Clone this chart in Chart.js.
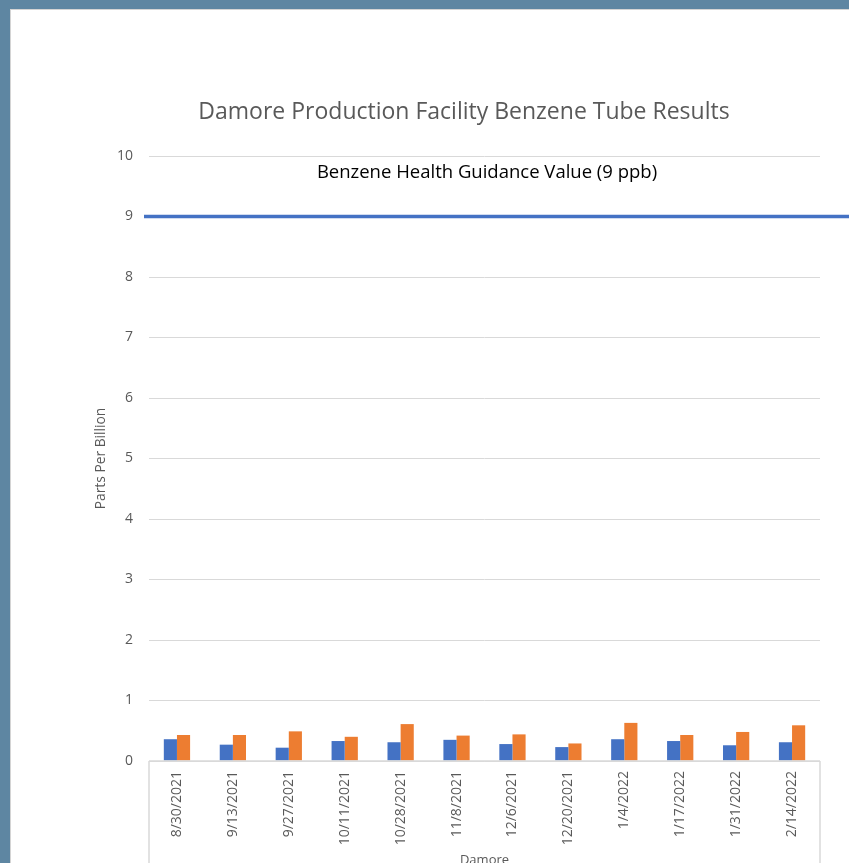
<!DOCTYPE html>
<html>
<head>
<meta charset="utf-8">
<title>Damore Production Facility Benzene Tube Results</title>
<script src="https://cdn.jsdelivr.net/npm/chart.js@4"></script>
<style>
    html, body { margin: 0; padding: 0; background: #fff; }
    #frame {
        position: absolute; left: 0; top: 0; width: 849px; height: 863px;
        box-sizing: border-box;
        border-left: 10px solid #5e86a2; border-top: 9px solid #5e86a2;
    }
    #frame::after {
        content: ''; position: absolute; left: 0; top: 0; right: 0; bottom: 0;
        border-left: 1px solid #d4d4d4; border-top: 1px solid #d4d4d4;
    }
    #chart { position: absolute; left: 0; top: 0; }
</style>
</head>
<body>
<div id="frame"></div>
<canvas id="chart" width="849" height="863"></canvas>
<script>
'use strict';

// dates of the tube samples
const DATES = ['8/30/2021', '9/13/2021', '9/27/2021', '10/11/2021', '10/28/2021', '11/8/2021',
    '12/6/2021', '12/20/2021', '1/4/2022', '1/17/2022', '1/31/2022', '2/14/2022'];
// two tube results per date (ppb)
const SERIES_BLUE = [0.36, 0.27, 0.22, 0.33, 0.31, 0.35, 0.28, 0.23, 0.36, 0.33, 0.26, 0.31];
const SERIES_ORANGE = [0.43, 0.43, 0.49, 0.40, 0.61, 0.42, 0.44, 0.29, 0.63, 0.43, 0.48, 0.59];
const Y_TICKS = [0, 1, 2, 3, 4, 5, 6, 7, 8, 9, 10];
const GUIDANCE_VALUE = 9;
const GUIDANCE_LABEL = 'Benzene Health Guidance Value (9 ppb)';
const TITLE = 'Damore Production Facility Benzene Tube Results';
const GROUP_LABEL = 'Damore';

const FONT = "'Open Sans', 'Noto Sans', sans-serif";
const GREY = '#595959';
const LINE_GREY = '#d9d9d9';

/* title, 9 ppb reference line and the multi-level axis box */
const decorations = {
    id: 'decorations',
    afterDatasetsDraw(chart) {
        const { ctx, chartArea, scales } = chart;
        ctx.save();

        // axis frame below the plot (Excel multi-level category box)
        ctx.strokeStyle = LINE_GREY;
        ctx.lineWidth = 1.5;
        ctx.beginPath();
        ctx.moveTo(chartArea.left, chartArea.bottom);
        ctx.lineTo(chartArea.right, chartArea.bottom);
        ctx.moveTo(chartArea.left, chartArea.bottom);
        ctx.lineTo(chartArea.left, chart.height);
        ctx.moveTo(chartArea.right, chartArea.bottom);
        ctx.lineTo(chartArea.right, chart.height);
        ctx.stroke();

        // guidance line
        const y9 = scales.y.getPixelForValue(GUIDANCE_VALUE);
        ctx.strokeStyle = '#4472c4';
        ctx.lineWidth = 3.5;
        ctx.beginPath();
        ctx.moveTo(chartArea.left - 5, y9);
        ctx.lineTo(chart.width, y9);
        ctx.stroke();

        ctx.textAlign = 'center';
        ctx.textBaseline = 'middle';
        ctx.fillStyle = '#000';
        ctx.font = `18.5px ${FONT}`;
        ctx.fillText(GUIDANCE_LABEL, 487, scales.y.getPixelForValue(9.72));

        ctx.fillStyle = GREY;
        ctx.font = `23px ${FONT}`;
        ctx.fillText(TITLE, 464, 112);

        ctx.font = `13px ${FONT}`;
        ctx.fillText(GROUP_LABEL, (chartArea.left + chartArea.right) / 2, 860);
        ctx.restore();
    }
};

new Chart(document.getElementById('chart'), {
    type: 'bar',
    data: {
        labels: DATES,
        datasets: [
            { label: 'Tube 1', data: SERIES_BLUE, backgroundColor: '#4472c4' },
            { label: 'Tube 2', data: SERIES_ORANGE, backgroundColor: '#ed7d31' },
        ],
    },
    options: {
        responsive: false,
        animation: false,
        devicePixelRatio: 1,
        layout: { padding: { left: 90, right: 29, top: 156, bottom: 0 } },
        datasets: { bar: { categoryPercentage: 0.47, barPercentage: 1 } },
        plugins: {
            legend: { display: false },
            title: { display: false },
            tooltip: { enabled: false },
        },
        scales: {
            x: {
                grid: { display: false },
                border: { display: false },
                ticks: {
                    minRotation: 90, maxRotation: 90, autoSkip: false,
                    padding: 2, color: GREY, font: { family: FONT, size: 14 },
                },
                afterFit(scale) { scale.height = 102; },
            },
            y: {
                min: 0, max: 10,
                afterBuildTicks(scale) { scale.ticks = Y_TICKS.map(v => ({ value: v })); },
                grid: { color: LINE_GREY, lineWidth: 1, drawTicks: false },
                border: { display: false },
                ticks: { padding: 16, color: GREY, font: { family: FONT, size: 14 } },
                title: {
                    display: true, text: 'Parts Per Billion', color: GREY,
                    font: { family: FONT, size: 13.8 }, padding: { top: 3, bottom: 0 },
                },
                afterFit(scale) { scale.width = 59; },
            },
        },
    },
    plugins: [decorations],
});
</script>
</body>
</html>
